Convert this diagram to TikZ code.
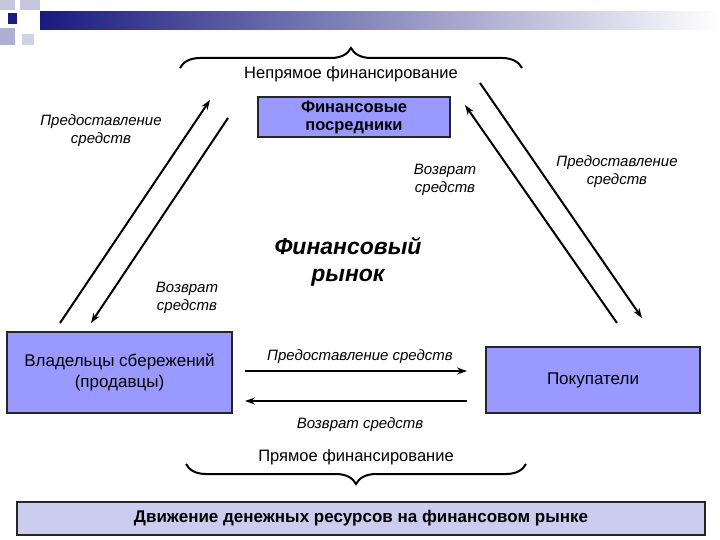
\documentclass[tikz,border=0pt]{standalone}
\usepackage{fontspec}
\setmainfont{Liberation Sans}
\usetikzlibrary{decorations.pathreplacing,arrows.meta}
\definecolor{boxblue}{HTML}{9999FF}
\definecolor{barlav}{HTML}{CCCCEE}
\definecolor{deco}{HTML}{1A1A80}
\begin{document}
\begin{tikzpicture}[x=1pt,y=-1pt,
  lbl/.style={font=\fontsize{15}{18}\selectfont\itshape, align=center, inner sep=0},
  plain/.style={font=\fontsize{16.5}{19}\selectfont, align=center, inner sep=0},
  bx/.style={draw=black!85, line width=1.8pt, fill=boxblue, align=center, inner sep=0},
  arr/.style={line width=2pt, -{Stealth[length=10pt,width=7pt]}},
  br/.style={line width=2pt, decorate, decoration={brace, amplitude=20pt, aspect=0.5}}]
\useasboundingbox (0,0) rectangle (720,540);
\fill[white] (0,0) rectangle (720,540);
% top decoration
\shade[left color=deco, right color=white] (40,12) rectangle (720,30);
\fill[deco!25] (0,0) rectangle (15,10);
\fill[deco!25] (20,0) rectangle (40,10);
\fill[deco!35] (0,28) rectangle (15,45);
\fill[deco!20] (22,34) rectangle (34,45);
\fill[deco] (8,13) rectangle (17,24);
% braces
\coordinate (tbL) at (180,68); \coordinate (tbR) at (522,68);
\draw[br] (tbL) -- (tbR);
\coordinate (bbL) at (186,464); \coordinate (bbR) at (526,464);
\draw[br] (bbR) -- (bbL);
\node[plain] (indirect) at (351,74) {Непрямое финансирование};
\node[plain] (direct) at (356,457) {Прямое финансирование};
% boxes
\node[bx, minimum width=192pt, minimum height=40pt, font=\fontsize{16.5}{18}\selectfont\bfseries] (fi) at (354,117) {Финансовые\\посредники};
\node[bx, minimum width=225pt, minimum height=81pt, font=\fontsize{17}{21}\selectfont] (own) at (119.5,372.5) {Владельцы сбережений\\(продавцы)};
\node[bx, minimum width=214pt, minimum height=66pt, font=\fontsize{17}{20}\selectfont] (buy) at (593,380) {Покупатели};
\node[draw=black!85, line width=1.8pt, fill=barlav, minimum width=688pt, minimum height=33pt, inner sep=0, font=\fontsize{17}{19}\selectfont\bfseries] (bar) at (361,518.5) {Движение денежных ресурсов на финансовом рынке};
\node[font=\fontsize{23}{27}\selectfont\bfseries\itshape, align=center, inner sep=0] (mkt) at (348,262) {Финансовый\\рынок};
% diagonal arrows
\coordinate (l1a) at (60,323); \coordinate (l1b) at (210,100);
\coordinate (l2a) at (228,118); \coordinate (l2b) at (91,323);
\coordinate (r1a) at (617,323); \coordinate (r1b) at (465,105);
\coordinate (r2a) at (480,83); \coordinate (r2b) at (642,318);
\draw[arr] (l1a) -- (l1b);
\draw[arr] (l2a) -- (l2b);
\draw[arr] (r1a) -- (r1b);
\draw[arr] (r2a) -- (r2b);
% horizontal arrows
\coordinate (h1a) at (245,371); \coordinate (h1b) at (467,371);
\coordinate (h2a) at (467,401); \coordinate (h2b) at (245,401);
\draw[arr] (h1a) -- (h1b);
\draw[arr] (h2a) -- (h2b);
% labels
\node[lbl] (p1) at (101,131) {Предоставление\\средств};
\node[lbl] (v1) at (445,180) {Возврат\\средств};
\node[lbl] (p2) at (617,172) {Предоставление\\средств};
\node[lbl] (v2) at (187,298) {Возврат\\средств};
\node[lbl] (p3) at (360,357) {Предоставление средств};
\node[lbl] (v3) at (360,425) {Возврат средств};
\end{tikzpicture}
\end{document}
